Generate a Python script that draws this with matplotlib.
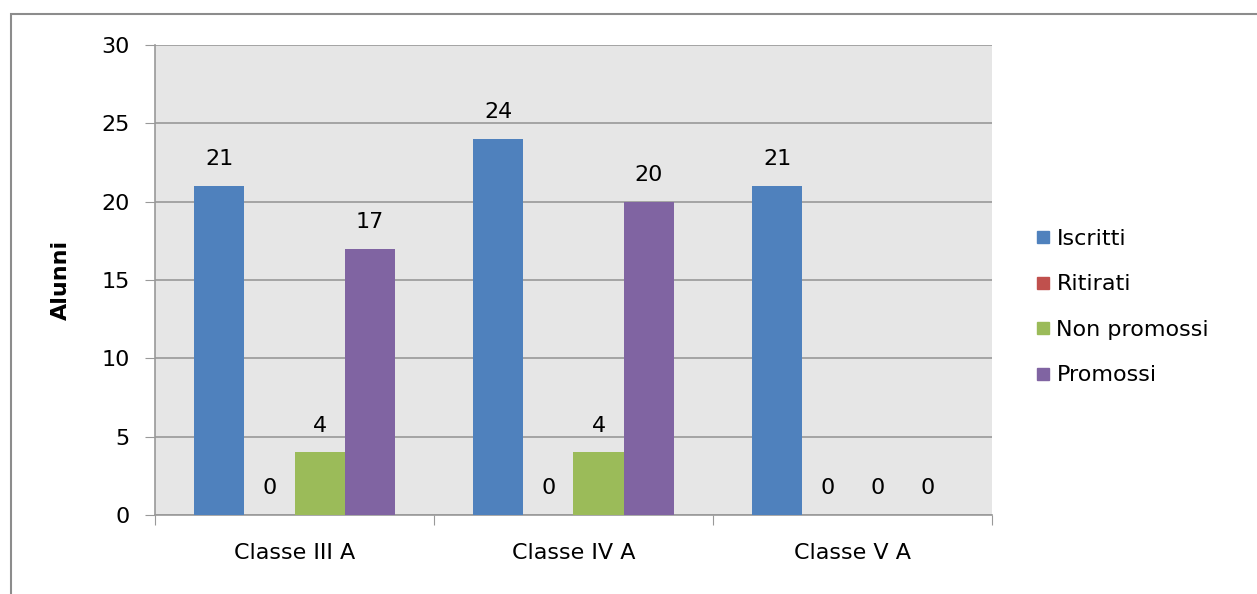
import numpy as np
import matplotlib.pyplot as plt
from matplotlib.patches import Rectangle
from matplotlib.lines import Line2D

classes = ['Classe III A', 'Classe IV A', 'Classe V A']
series = ['Iscritti', 'Ritirati', 'Non promossi', 'Promossi']
iscritti = [21, 24, 21]
ritirati = [0, 0, 0]
non_promossi = [4, 4, 0]
promossi = [17, 20, 0]
colors = ['#4F81BD', '#C0504D', '#9BBB59', '#8064A2']

values = [iscritti, ritirati, non_promossi, promossi]

fig = plt.figure(figsize=(12.57, 5.94), dpi=100)
ax = fig.add_axes([155/1257, 1 - 515/594, (992-155)/1257, (515-45)/594])

# outer border of the chart
fig.patches.append(Rectangle((11/1257, -0.05), 1.2, 1 - 14/594 + 0.05,
                             transform=fig.transFigure, fill=False,
                             edgecolor='#8c8c8c', lw=1.5))

ax.set_facecolor('#e6e6e6')
x = np.arange(len(classes))
w = 0.18
for i, (name, vals) in enumerate(zip(series, values)):
    pos = x - 1.5*w + i*w
    ax.bar(pos, vals, width=w, color=colors[i], label=name, zorder=3)
    for p, v in zip(pos, vals):
        ax.annotate(str(v), (p, v), xytext=(0, 12), textcoords='offset points',
                    ha='center', va='bottom', fontsize=16, color='black', zorder=4)

ax.set_xlim(-0.5, 2.5)
ax.set_ylim(0, 30)
ax.set_yticks(range(0, 31, 5))
ax.yaxis.grid(True, color='#999999', lw=1.2, zorder=1)
ax.set_axisbelow(True)
ax.set_xticks([-0.5, 0.5, 1.5, 2.5], minor=False)
ax.set_xticklabels([])
ax.set_xticks(x, minor=True)
ax.set_xticklabels(classes, minor=True, fontsize=16)
ax.tick_params(axis='x', which='minor', length=0, pad=20)
ax.tick_params(axis='x', which='major', length=7, color='#999999')
ax.tick_params(axis='y', length=7, color='#999999', labelsize=16, pad=11)
for s in ['top', 'right']:
    ax.spines[s].set_visible(False)
for s in ['left', 'bottom']:
    ax.spines[s].set_color('#999999')
    ax.spines[s].set_linewidth(1.2)
ax.set_ylabel('Alunni', fontsize=16, fontweight='bold', labelpad=22)

handles = [Line2D([], [], marker='s', ls='', markersize=8, color=c) for c in colors]
fig.legend(handles, series, loc='center left', bbox_to_anchor=(1012/1257, 0.483),
           frameon=False, fontsize=16, handletextpad=0.1, labelspacing=1.15,
           handlelength=1.0)

fig.savefig('out.png', dpi=100)
